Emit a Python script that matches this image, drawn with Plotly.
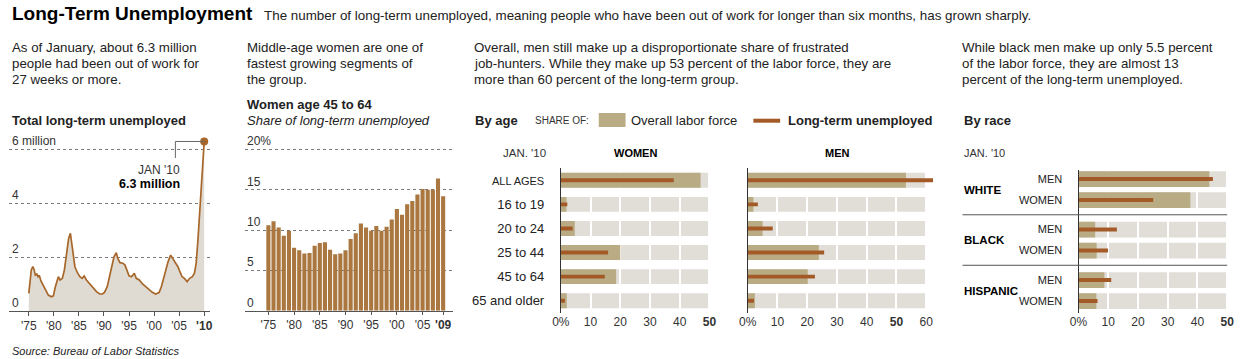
import plotly.graph_objects as go

W, H = 1251, 359
FONT = "Liberation Sans, Arial, Helvetica, sans-serif"
PAD = 2  # annotation text padding compensation (px)


def px(x):
    return x / W


def py(y):
    return 1 - y / H


# ---------------- data ----------------
# Panel 1: total long-term unemployed (millions)
lt_years = [1975.0, 1975.25, 1975.5, 1975.8, 1976.05, 1976.3, 1976.6, 1976.85, 1977.1, 1977.4,
            1978.0, 1978.4, 1978.9, 1979.5, 1979.9, 1980.3, 1980.7, 1980.9, 1981.25, 1981.7,
            1982.1, 1982.55, 1982.95, 1983.3, 1983.55, 1983.9, 1984.2, 1984.75, 1985.2, 1985.65,
            1986.05, 1986.5, 1987.2, 1987.8, 1988.5, 1989.15, 1989.7, 1990.1, 1990.65, 1991.1,
            1991.6, 1992.0, 1992.45, 1992.75, 1993.2, 1993.75, 1994.2, 1994.6, 1995.0, 1995.5,
            1996.05, 1996.45, 1997.05, 1997.7, 1998.35, 1999.0, 1999.65, 2000.3, 2001.0, 2001.45,
            2001.95, 2002.4, 2002.8, 2003.3, 2003.75, 2004.3, 2004.75, 2005.15, 2005.6, 2006.05,
            2006.6, 2007.1, 2007.65, 2008.05, 2008.4, 2008.75, 2009.1, 2009.45, 2009.7, 2009.9,
            2010.0]
lt_millions = [0.65, 1.15, 1.52, 1.64, 1.54, 1.33, 1.37, 1.27, 1.32, 1.12,
               0.90, 0.74, 0.59, 0.53, 0.56, 0.90, 1.21, 1.27, 1.15, 1.21,
               1.52, 2.20, 2.69, 2.88, 2.50, 1.95, 1.64, 1.40, 1.27, 1.21,
               1.30, 1.15, 1.00, 0.84, 0.72, 0.63, 0.63, 0.69, 0.90, 1.27,
               1.64, 2.01, 2.16, 1.95, 1.79, 1.77, 1.70, 1.46, 1.30, 1.27,
               1.40, 1.21, 1.15, 1.00, 0.90, 0.78, 0.69, 0.63, 0.68, 0.90,
               1.27, 1.64, 1.83, 2.07, 1.95, 1.77, 1.64, 1.46, 1.27, 1.21,
               1.09, 1.21, 1.27, 1.40, 1.77, 2.63, 3.62, 4.60, 5.47, 6.02,
               6.28]
lt_ytick_vals = [0, 2, 4, 6]
lt_ytick_text = ["0", "2", "4", "6 million"]
lt_xtick_vals = [1975, 1980, 1985, 1990, 1995, 2000, 2005, 2010]
lt_xtick_text = ["'75", "'80", "'85", "'90", "'95", "'00", "'05", "<b>'10</b>"]

# Panel 2: women 45-64 share of long-term unemployed (%)
w_years = list(range(1975, 2010))
w_share = [10.6, 11.1, 10.3, 9.3, 9.9, 7.8, 7.5, 7.1, 7.15, 8.05,
           8.4, 8.5, 7.55, 7.0, 7.1, 7.5, 8.9, 9.6, 10.8, 10.3,
           9.9, 10.5, 9.9, 10.4, 11.3, 12.6, 11.9, 13.2, 13.6, 14.4,
           15.1, 15.0, 15.0, 16.4, 14.2]
w_ytick_vals = [0, 5, 10, 15, 20]
w_ytick_text = ["0", "5", "10", "15", "20%"]
w_xtick_vals = [1975, 1980, 1985, 1990, 1995, 2000, 2005, 2009]
w_xtick_text = ["'75", "'80", "'85", "'90", "'95", "'00", "'05", "<b>'09</b>"]

# Panel 3: by age, Jan '10 (%)
age_groups = ["ALL AGES", "16 to 19", "20 to 24", "25 to 44", "45 to 64", "65 and older"]
women_labor = [47.0, 1.9, 4.7, 20.0, 18.6, 2.0]
women_ltu = [38.0, 2.2, 4.0, 15.9, 14.8, 1.4]
men_labor = [53.2, 1.9, 5.0, 23.9, 20.2, 2.4]
men_ltu = [62.3, 3.4, 8.4, 25.7, 22.6, 2.1]
women_track_max = 50
men_track_max = 60
women_xticks = [0, 10, 20, 30, 40, 50]
women_xtick_text = ["0%", "10", "20", "30", "40", "<b>50</b>"]
men_xticks = [0, 10, 20, 30, 40, 50, 60]
men_xtick_text = ["0%", "10", "20", "30", "40", "<b>50</b>", "60"]

# Panel 4: by race, Jan '10 (%)
race_groups = ["WHITE", "BLACK", "HISPANIC"]
race_sexes = ["MEN", "WOMEN"]
race_labor = [44.0, 37.6, 5.6, 6.1, 8.7, 6.0]
race_ltu = [45.2, 25.1, 12.9, 9.9, 11.0, 6.4]
race_track_max = 50
race_xticks = [0, 10, 20, 30, 40, 50]
race_xtick_text = ["0%", "10", "20", "30", "40", "<b>50</b>"]

# ---------------- colors ----------------
C_LINE = "#a8672a"
C_FILL = "#dfdbd3"
C_BAR = "#a9773f"
C_LF = "#b9ab84"
C_LTU = "#a35a27"
C_TRACK = "#e1ded8"
C_GRID = "#7a7a7a"
C_TXT = "#222222"

age_pos = list(range(len(age_groups)))
age_ticktext = [("<span style='font-size:11px'>" + a + "</span>") if a.isupper() else a
                for a in age_groups]
GROUP_STEP = 2.405
race_pos = [g * GROUP_STEP + s for g in range(len(race_groups)) for s in range(len(race_sexes))]
race_ticktext = [s for _ in race_groups for s in race_sexes]

fig = go.Figure()

# Panel 1
fig.add_trace(go.Scatter(x=lt_years, y=lt_millions, mode="lines", fill="tozeroy",
                         fillcolor=C_FILL, line=dict(color=C_LINE, width=1.7),
                         xaxis="x", yaxis="y", hoverinfo="skip"))
fig.add_trace(go.Scatter(x=[lt_years[-1]], y=[lt_millions[-1]], mode="markers",
                         marker=dict(color=C_LINE, size=8), xaxis="x", yaxis="y"))
callout_x = 2004.25
fig.add_trace(go.Scatter(x=[lt_years[-1], callout_x, callout_x],
                         y=[lt_millions[-1], lt_millions[-1], 5.67], mode="lines",
                         line=dict(color="#666666", width=1), xaxis="x", yaxis="y"))

# Panel 2
fig.add_trace(go.Bar(x=w_years, y=w_share, marker=dict(color=C_BAR, line=dict(width=0)),
                     width=0.8, xaxis="x2", yaxis="y2"))

# Panel 3 women / men
for xa, ya, lf, ltu in [("x3", "y3", women_labor, women_ltu), ("x4", "y4", men_labor, men_ltu)]:
    fig.add_trace(go.Bar(x=lf, y=age_pos, orientation="h", width=0.62,
                         marker=dict(color=C_LF, line=dict(width=0)), xaxis=xa, yaxis=ya))
    fig.add_trace(go.Bar(x=ltu, y=age_pos, orientation="h", width=0.16,
                         marker=dict(color=C_LTU, line=dict(width=0)), xaxis=xa, yaxis=ya))

# Panel 4 race
fig.add_trace(go.Bar(x=race_labor, y=race_pos, orientation="h", width=0.75,
                     marker=dict(color=C_LF, line=dict(width=0)), xaxis="x5", yaxis="y5"))
fig.add_trace(go.Bar(x=race_ltu, y=race_pos, orientation="h", width=0.19,
                     marker=dict(color=C_LTU, line=dict(width=0)), xaxis="x5", yaxis="y5"))

shapes = []
# track backgrounds
for xr, yr, mx, positions, h in [("x3", "y3", women_track_max, age_pos, 0.31),
                                 ("x4", "y4", men_track_max, age_pos, 0.31),
                                 ("x5", "y5", race_track_max, race_pos, 0.375)]:
    for p in positions:
        shapes.append(dict(type="rect", xref=xr, yref=yr, x0=0, x1=mx, y0=p - h, y1=p + h,
                           fillcolor=C_TRACK, line=dict(width=0), layer="below"))
# race separators
for g in range(1, len(race_groups)):
    ysep = ((g - 1) * GROUP_STEP + 1 + g * GROUP_STEP) / 2
    shapes.append(dict(type="line", xref="paper", yref="y5", x0=px(962), x1=px(1229),
                       y0=ysep, y1=ysep, line=dict(color="#555555", width=1)))
# legend swatches
shapes.append(dict(type="rect", xref="paper", yref="paper", x0=px(595), x1=px(622),
                   y0=py(127), y1=py(113), fillcolor=C_LF, line=dict(width=0)))
shapes.append(dict(type="line", xref="paper", yref="paper", x0=px(751), x1=px(778),
                   y0=py(120.7), y1=py(120.7), line=dict(color=C_LTU, width=4)))

ann = []


def text(x, y, s, size=13, bold=False, italic=False, anchor="left", color=C_TXT):
    t = s
    if bold:
        t = "<b>" + t + "</b>"
    if italic:
        t = "<i>" + t + "</i>"
    xx = x - PAD if anchor == "left" else (x + PAD if anchor == "right" else x)
    ann.append(dict(x=px(xx), y=py(y), xref="paper", yref="paper", text=t, showarrow=False,
                    xanchor=anchor, yanchor="middle", font=dict(size=size, color=color, family=FONT)))


text(3, 14, "Long-Term Unemployment", size=19, bold=True, color="#000")
text(257, 15, "The number of long-term unemployed, meaning people who have been out of work for longer than six months, has grown sharply.", size=13.4)

desc = [
    (3, ["As of January, about 6.3 million", "people had been out of work for", "27 weeks or more."]),
    (240, ["Middle-age women are one of", "fastest growing segments of", "the group."]),
    (469, ["Overall, men still make up a disproportionate share of frustrated",
           "job-hunters. While they make up 53 percent of the labor force, they are",
           "more than 60 percent of the long-term group."]),
    (961, ["While black men make up only 5.5 percent", "of the labor force, they are almost 13",
           "percent of the long-term unemployed."]),
]
for x0, lines in desc:
    for i, ln in enumerate(lines):
        text(x0, 48 + 16 * i, ln, size=13.3)

text(3, 120.7, "Total long-term unemployed", size=13, bold=True)
text(240, 104, "Women age 45 to 64", size=13, bold=True)
text(240, 120.7, "Share of long-term unemployed", size=13, italic=True)
text(3, 351, "Source: Bureau of Labor Statistics", size=11, italic=True)

text(470, 120.7, "By age", size=13, bold=True)
text(531, 120.7, "SHARE OF:", size=10, color="#333")
text(627, 120.7, "Overall labor force", size=13)
text(786, 120.7, "Long-term unemployed", size=13, bold=True)
text(542, 153, "JAN. '10", size=11.5, anchor="right", color="#333")
text(632, 153, "WOMEN", size=11, bold=True, anchor="center", color="#000")
text(836, 153, "MEN", size=11, bold=True, anchor="center", color="#000")

text(963, 120.7, "By race", size=13, bold=True)
text(963, 153, "JAN. '10", size=11, color="#333")
for g, name in enumerate(race_groups):
    ann.append(dict(x=px(963 - PAD), y=g * GROUP_STEP + 0.5, xref="paper", yref="y5",
                    text="<b>" + name + "</b>", showarrow=False, xanchor="left",
                    yanchor="middle", font=dict(size=11.5, color="#000", family=FONT)))

# y labels for line and bar chart
for v, s in zip(lt_ytick_vals, lt_ytick_text):
    ann.append(dict(x=px(3 - PAD), y=v, xref="paper", yref="y", text=s, showarrow=False,
                    xanchor="left", yanchor="bottom", yshift=-1,
                    font=dict(size=12, color="#333", family=FONT)))
for v, s in zip(w_ytick_vals, w_ytick_text):
    ann.append(dict(x=px(240 - PAD), y=v, xref="paper", yref="y2", text=s, showarrow=False,
                    xanchor="left", yanchor="bottom", yshift=-1,
                    font=dict(size=12, color="#333", family=FONT)))

# callout text
ann.append(dict(x=2005.6, y=5.22, xref="x", yref="y", text="JAN '10", showarrow=False,
                xanchor="right", yanchor="middle", font=dict(size=12, color="#333", family=FONT)))
ann.append(dict(x=2005.6, y=4.70, xref="x", yref="y", text="<b>6.3 million</b>", showarrow=False,
                xanchor="right", yanchor="middle", font=dict(size=12.5, color="#000", family=FONT)))

tickfont = dict(size=12, color="#333", family=FONT)

fig.update_layout(
    width=W, height=H, margin=dict(l=0, r=0, t=0, b=0),
    paper_bgcolor="white", plot_bgcolor="white", showlegend=False,
    barmode="overlay", font=dict(family=FONT, color=C_TXT),
    shapes=shapes, annotations=ann,
    xaxis=dict(domain=[0, px(203)], range=[1971.05, 2011.2], anchor="y",
               tickvals=lt_xtick_vals, ticktext=lt_xtick_text, showline=True,
               linecolor="#555", ticks="outside", ticklen=4, tickcolor="#555",
               showgrid=False, zeroline=False, tickfont=tickfont),
    yaxis=dict(domain=[py(311), py(135)], range=[0, 6.52], anchor="x",
               tickvals=lt_ytick_vals[1:], showticklabels=False, showgrid=True,
               gridcolor=C_GRID, griddash="dot", gridwidth=1, zeroline=False),
    xaxis2=dict(domain=[px(238), px(448)], range=[1970.43, 2010.93], anchor="y2",
                tickvals=w_xtick_vals, ticktext=w_xtick_text, showline=True,
                linecolor="#555", ticks="outside", ticklen=3, tickcolor="#555",
                showgrid=False, zeroline=False, tickfont=tickfont),
    yaxis2=dict(domain=[py(310.7), py(141.3)], range=[0, 21], anchor="x2",
                tickvals=w_ytick_vals[1:], showticklabels=False, showgrid=True,
                gridcolor=C_GRID, griddash="dot", gridwidth=1, zeroline=False),
    xaxis3=dict(domain=[px(556.7), px(716)], range=[0, 53.1], anchor="y3",
                tickvals=women_xticks, ticktext=women_xtick_text, showgrid=True,
                gridcolor="white", gridwidth=1.5, zeroline=False, showline=False,
                ticks="", tickfont=tickfont),
    yaxis3=dict(domain=[py(313), py(168)], range=[5.51, -0.51], anchor="x3",
                tickvals=age_pos, ticktext=age_ticktext, showline=True, linecolor="#333",
                linewidth=1, ticks="outside", ticklen=13, tickcolor="rgba(0,0,0,0)",
                showgrid=False, zeroline=False, tickfont=dict(size=13, color=C_TXT, family=FONT)),
    xaxis4=dict(domain=[px(745.3), px(933.4)], range=[0, 62.7], anchor="y4",
                tickvals=men_xticks, ticktext=men_xtick_text, showgrid=True,
                gridcolor="white", gridwidth=1.5, zeroline=False, showline=False,
                ticks="", tickfont=tickfont),
    yaxis4=dict(domain=[py(313), py(168)], range=[5.51, -0.51], anchor="x4",
                showticklabels=False, showline=True, linecolor="#333", linewidth=1,
                ticks="", showgrid=False, zeroline=False),
    xaxis5=dict(domain=[px(1079), px(1235)], range=[0, 52], anchor="y5",
                tickvals=race_xticks, ticktext=race_xtick_text, showgrid=True,
                gridcolor="white", gridwidth=1.5, zeroline=False, showline=False,
                ticks="", tickfont=tickfont),
    yaxis5=dict(domain=[py(313), py(170)], range=[6.38, -0.43], anchor="x5",
                tickvals=race_pos, ticktext=race_ticktext, showline=True, linecolor="#333",
                linewidth=1, ticks="outside", ticklen=13, tickcolor="rgba(0,0,0,0)",
                showgrid=False, zeroline=False, tickfont=dict(size=11, color=C_TXT, family=FONT)),
)

fig.write_html(
    "out.html",
    config={"displayModeBar": False},
    post_script="document.body.style.margin='0px';document.body.style.overflow='hidden';",
)
